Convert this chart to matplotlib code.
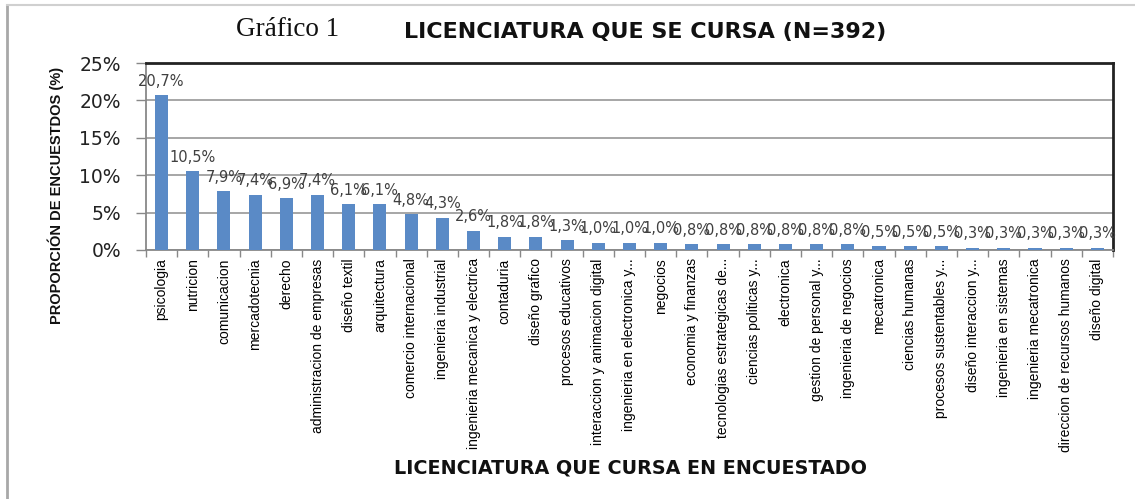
import numpy as np
import matplotlib.pyplot as plt
from matplotlib.lines import Line2D

# Data -------------------------------------------------------------------

carreras = ['psicologia', 'nutricion', 'comunicacion', 'mercadotecnia', 'derecho',
            'administracion de empresas', 'diseño textil', 'arquitectura',
            'comercio internacional', 'ingenieria industrial',
            'ingenieria mecanica y electrica', 'contaduria', 'diseño grafico',
            'procesos educativos', 'interaccion y animacion digital',
            'ingenieria en electronica y...', 'negocios', 'economia y finanzas',
            'tecnologias estrategicas de...', 'ciencias politicas y...',
            'electronica', 'gestion de personal y...', 'ingenieria de negocios',
            'mecatronica', 'ciencias humanas', 'procesos sustentables y...',
            'diseño interaccion y...', 'ingenieria en sistemas',
            'ingenieria mecatronica', 'direccion de recursos humanos',
            'diseño digital']
porcentajes = [20.7, 10.5, 7.9, 7.4, 6.9, 7.4, 6.1, 6.1, 4.8, 4.3, 2.6, 1.8, 1.8,
               1.3, 1.0, 1.0, 1.0, 0.8, 0.8, 0.8, 0.8, 0.8, 0.8, 0.5, 0.5, 0.5,
               0.3, 0.3, 0.3, 0.3, 0.3]
yticks = [0, 5, 10, 15, 20, 25]

narrow = 'Liberation Sans'

# Figure -----------------------------------------------------------------

fig = plt.figure(figsize=(11.35, 4.99), dpi=100)
ax = fig.add_axes([0.1286, 0.499, 0.852, 0.3747])

x = np.arange(len(carreras))
ax.bar(x, porcentajes, width=0.42, color='#5A8AC6', zorder=3)

# data labels (they overlap in the original too)
for xi, v in zip(x, porcentajes):
    ax.annotate(f"{v:.1f}%".replace('.', ','), (xi, v), xytext=(0, 10),
                textcoords='offset points', ha='center', va='center',
                fontsize=10.5, color='#404040', zorder=4)

ax.set_xlim(-0.5, len(carreras) - 0.5)
ax.set_ylim(0, 25)
ax.set_yticks(yticks)
ax.set_yticklabels([f"{t}%" for t in yticks], fontsize=13.5, color='#222222')
ax.yaxis.grid(True, color='#A6A6A6', linewidth=1.4, zorder=0)

ax.set_xticks(x)
ax.set_xticklabels(carreras, rotation=90, fontsize=10, family=narrow, va='top')
ax.tick_params(axis='x', which='major', length=0, pad=6)
ax.set_xticks(np.arange(len(carreras) + 1) - 0.5, minor=True)
ax.tick_params(axis='x', which='minor', length=5, color='#888888', width=1)
ax.tick_params(axis='y', length=7, color='#888888', width=1, pad=11)

for s in ['left', 'bottom']:
    ax.spines[s].set_color('#888888')
    ax.spines[s].set_linewidth(1.3)
for s in ['top', 'right']:
    ax.spines[s].set_color('#222222')
    ax.spines[s].set_linewidth(2)

# Titles and labels
fig.text(288 / 1135, 1 - 30 / 499, 'Gráfico 1', family='Liberation Serif',
         fontsize=19.5, ha='center', va='center', color='#111111')
fig.text(645 / 1135, 1 - 32 / 499, 'LICENCIATURA QUE SE CURSA (N=392)',
         family='DejaVu Sans', fontweight='bold', fontsize=16,
         ha='center', va='center', color='#111111')
fig.text(630 / 1135, 1 - 468 / 499, 'LICENCIATURA QUE CURSA EN ENCUESTADO',
         family='DejaVu Sans', fontweight='bold', fontsize=13.8,
         ha='center', va='center', color='#111111')
fig.text(56 / 1135, 1 - 195 / 499, 'PROPORCIÓN DE ENCUESTDOS (%)', rotation=90,
         family=narrow, fontweight='bold', fontsize=10.5,
         ha='center', va='center', color='#111111')

# Frame lines around the figure
fig.add_artist(Line2D([6.5 / 1135, 6.5 / 1135], [0, 1 - 5 / 499],
                      transform=fig.transFigure, color='#A8A8A8', linewidth=2))
fig.add_artist(Line2D([6.5 / 1135, 1], [1 - 5 / 499, 1 - 5 / 499],
                      transform=fig.transFigure, color='#D0D0D0', linewidth=1.5))

fig.savefig('out.png', dpi=100)
